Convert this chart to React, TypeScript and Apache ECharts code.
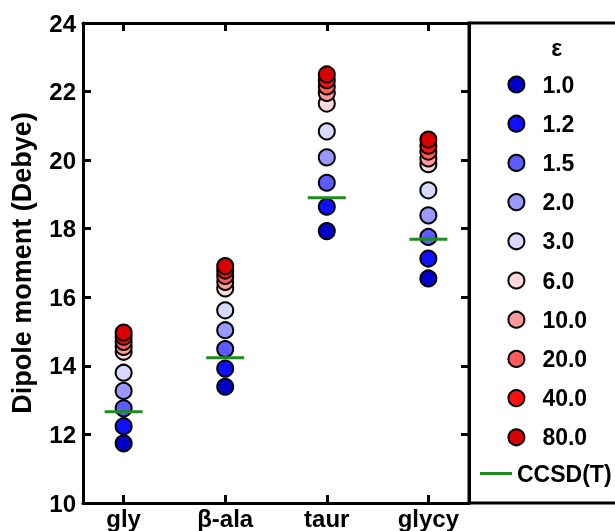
import React, { useEffect, useRef } from "react";
import * as echarts from "echarts";

const molecules = ["gly", "β-ala", "taur", "glycy"];
const epsLabels = ["1.0", "1.2", "1.5", "2.0", "3.0", "6.0", "10.0", "20.0", "40.0", "80.0"];
const epsColors = ["#0000c8", "#1010ff", "#5b5bff", "#9999ff", "#d9d9ff", "#ffd9d9", "#ff9999", "#ff5b5b", "#ff1010", "#d80000"];
const gly = [11.74, 12.24, 12.76, 13.27, 13.8, 14.41, 14.55, 14.7, 14.85, 14.97];
const bala = [13.39, 13.92, 14.49, 15.04, 15.62, 16.26, 16.45, 16.62, 16.78, 16.91];
const taur = [17.93, 18.64, 19.34, 20.08, 20.84, 21.65, 21.96, 22.15, 22.33, 22.5];
const glycy = [16.55, 17.13, 17.76, 18.39, 19.12, 19.88, 20.05, 20.25, 20.42, 20.6];
const ccsd = [12.66, 14.24, 18.9, 17.69];
const xTickValues = [0, 1, 2, 3];

const FONT = "'Liberation Sans', Arial, sans-serif";

export default function App() {
  const ref = useRef<HTMLDivElement>(null);
  useEffect(() => {
    if (!ref.current) return;
    const chart = echarts.init(ref.current, null, { renderer: "svg" });
    const byMol = [gly, bala, taur, glycy];
    const scatterSeries = epsLabels.map((e, i) => ({
      name: e,
      type: "scatter",
      symbol: "circle",
      symbolSize: 16,
      itemStyle: { color: epsColors[i], borderColor: "#000", borderWidth: 2, opacity: 1 },
      data: byMol.map((arr, m) => [m, arr[i]]),
      z: 2,
    }));
    const axisLine = { show: true, onZero: false, lineStyle: { color: "#000", width: 3 } };
    const tick = { show: true, inside: true, length: 8, lineStyle: { color: "#000", width: 3 } };
    chart.setOption({
      animation: false,
      grid: { left: 83, right: 146, top: 23, bottom: 28 },
      xAxis: [
        {
          type: "value",
          min: -0.4,
          max: 3.4,
          position: "bottom",
          axisLine,
          splitLine: { show: false },
          axisTick: { ...tick, customValues: xTickValues },
          axisLabel: {
            show: true,
            customValues: xTickValues,
            formatter: (v: number) => molecules[Math.round(v)],
            color: "#000",
            fontSize: 24,
            fontWeight: "bold",
            fontFamily: FONT,
            margin: 3,
          },
        },
        {
          type: "value",
          min: -0.4,
          max: 3.4,
          position: "top",
          axisLine,
          splitLine: { show: false },
          axisTick: { ...tick, customValues: xTickValues },
          axisLabel: { show: false },
        },
      ],
      yAxis: [
        {
          type: "value",
          min: 10,
          max: 24,
          interval: 2,
          position: "left",
          axisLine,
          splitLine: { show: false },
          axisTick: tick,
          axisLabel: { color: "#000", fontSize: 24, fontWeight: "bold", fontFamily: FONT, margin: 7 },
          name: "Dipole moment (Debye)",
          nameLocation: "middle",
          nameGap: 48,
          nameTextStyle: { color: "#000", fontSize: 27, fontWeight: "bold", fontFamily: FONT },
        },
        {
          type: "value",
          min: 10,
          max: 24,
          interval: 2,
          position: "right",
          axisLine,
          splitLine: { show: false },
          axisTick: tick,
          axisLabel: { show: false },
        },
      ],
      legend: [
        {
          data: epsLabels,
          orient: "vertical",
          left: 507.4,
          top: 73,
          padding: 0,
          itemWidth: 42,
          itemHeight: 16,
          itemGap: 16.2,
          icon: "circle",
          selectedMode: false,
          textStyle: { color: "#000", fontSize: 23, lineHeight: 22, fontWeight: "bold", fontFamily: FONT },
        },
        {
          data: [{ name: "CCSD(T)", icon: "path://M0,0H32V3H0Z" }],
          orient: "vertical",
          left: 480,
          top: 462,
          padding: 0,
          itemWidth: 32,
          itemHeight: 3,
          selectedMode: false,
          textStyle: { color: "#000", fontSize: 23, lineHeight: 22, fontWeight: "bold", fontFamily: FONT },
        },
      ],
      graphic: [
        {
          type: "rect",
          shape: { x: 469, y: 23, width: 200, height: 480 },
          style: { fill: "none", stroke: "#000", lineWidth: 3 },
          silent: true,
        },
        {
          type: "text",
          x: 556.7,
          y: 48,
          style: { text: "ε", fill: "#000", fontSize: 23, fontWeight: "bold", fontFamily: FONT, align: "center", verticalAlign: "middle" },
        },
      ],
      series: [
        ...scatterSeries,
        {
          name: "CCSD(T)",
          type: "scatter",
          symbol: "rect",
          symbolSize: [38, 3],
          itemStyle: { color: "#1e8c1e", borderWidth: 0, opacity: 1 },
          data: ccsd.map((v, m) => [m, v]),
          z: 5,
        },
      ],
    });
    return () => chart.dispose();
  }, []);
  return <div ref={ref} style={{ position: "fixed", left: 0, top: 0, width: 615, height: 531 }} />;
}
